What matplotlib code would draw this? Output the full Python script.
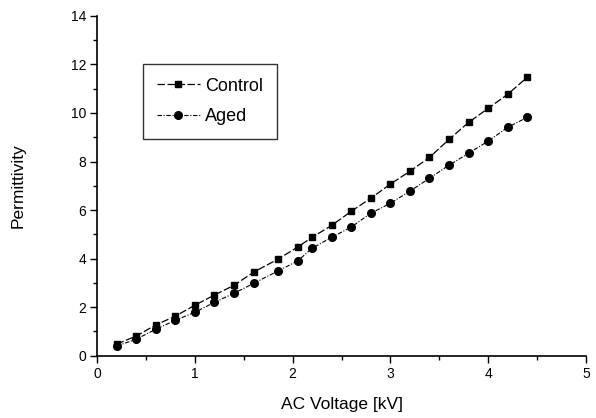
import numpy as np
import matplotlib
matplotlib.use("Agg")
import matplotlib.pyplot as plt
from matplotlib.ticker import MultipleLocator

plt.rcParams['font.family'] = ['Liberation Sans', 'DejaVu Sans']

# data
voltage = [0.2, 0.4, 0.6, 0.8, 1.0, 1.2, 1.4, 1.6, 1.85, 2.05, 2.2,
           2.4, 2.6, 2.8, 3.0, 3.2, 3.4, 3.6, 3.8, 4.0, 4.2, 4.4]
control = [0.48, 0.81, 1.27, 1.63, 2.08, 2.5, 2.9, 3.44, 3.98, 4.47, 4.88,
           5.37, 5.95, 6.49, 7.07, 7.6, 8.17, 8.91, 9.61, 10.19, 10.77, 11.47]
aged = [0.40, 0.68, 1.09, 1.46, 1.79, 2.2, 2.57, 2.98, 3.49, 3.9, 4.43,
        4.88, 5.3, 5.87, 6.28, 6.78, 7.31, 7.85, 8.34, 8.84, 9.41, 9.82]

fig = plt.figure(figsize=(5.96, 4.18), dpi=100)
ax = fig.add_axes([0.163, 0.149, 0.82, 0.813])

ax.plot(voltage, control, color='black', lw=0.9, ls=(0, (6, 2)),
        marker='s', ms=5, label='Control')
ax.plot(voltage, aged, color='black', lw=0.8, ls=(0, (4, 1.5, 1, 1.5)),
        marker='o', ms=5.5, label='Aged')

ax.set_xlim(0, 5)
ax.set_ylim(0, 14)
ax.xaxis.set_major_locator(MultipleLocator(1))
ax.xaxis.set_minor_locator(MultipleLocator(0.5))
ax.yaxis.set_major_locator(MultipleLocator(2))
ax.yaxis.set_minor_locator(MultipleLocator(1))
ax.tick_params(which='major', direction='out', length=5, width=1,
               labelsize=10, pad=3)
ax.tick_params(which='minor', direction='out', length=3, width=1)

for s in ['top', 'right']:
    ax.spines[s].set_visible(False)
for s in ['left', 'bottom']:
    ax.spines[s].set_linewidth(1.2)

ax.set_xlabel('AC Voltage [kV]', fontsize=12.5, labelpad=12)
ax.set_ylabel('Permittivity', fontsize=12.5, labelpad=32)

leg = ax.legend(loc='upper left', bbox_to_anchor=(0.094, 0.858), fontsize=13,
                frameon=True, fancybox=False, edgecolor='black',
                handlelength=2.4, borderpad=0.75, labelspacing=0.75,
                handletextpad=0.3, borderaxespad=0)
leg.get_frame().set_linewidth(1.0)

fig.savefig('out.png', dpi=100)
